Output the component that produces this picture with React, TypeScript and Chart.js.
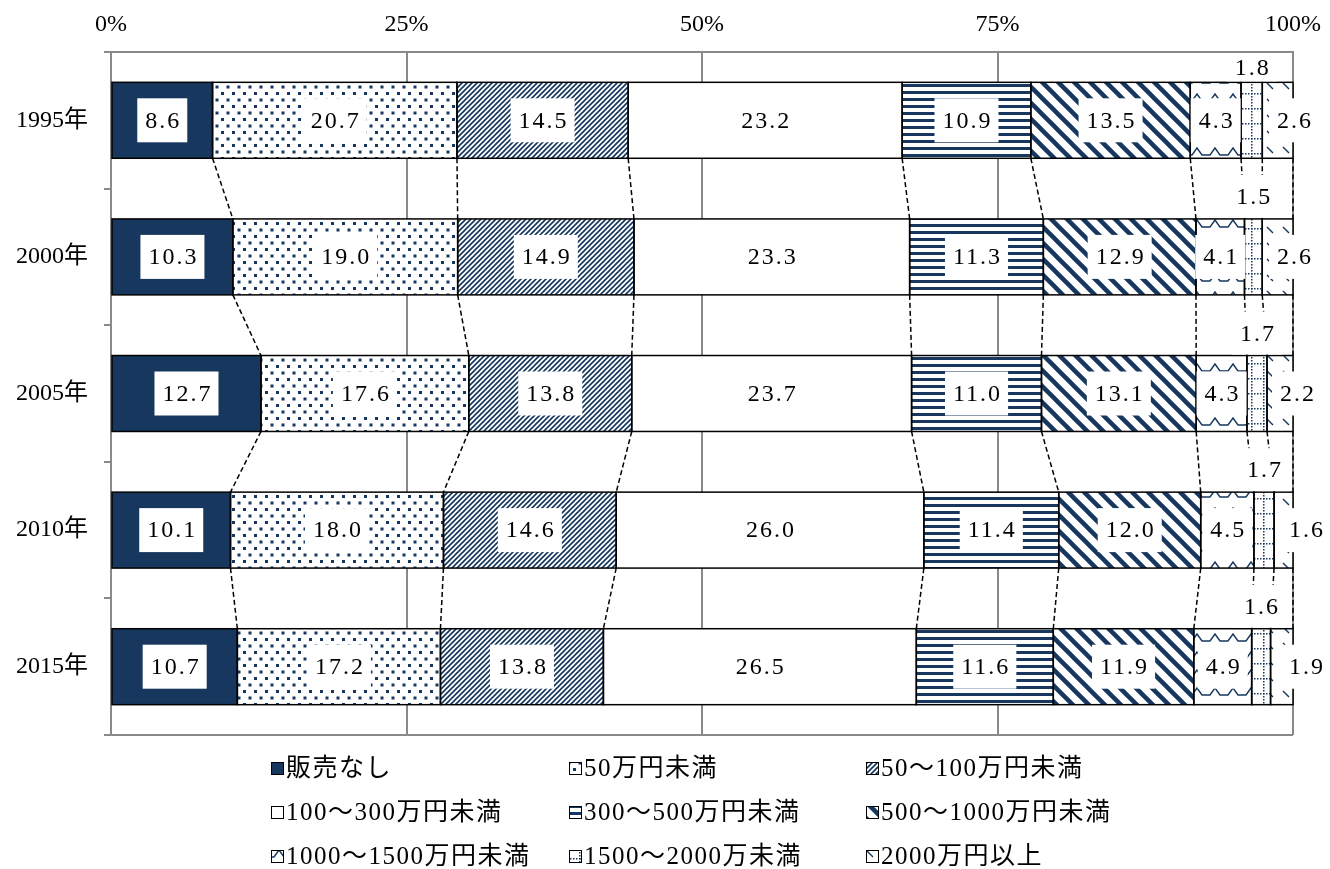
import React, { useEffect, useRef } from 'react';
import { Chart, registerables } from 'chart.js';

Chart.register(...registerables);

// ---- data ----
const YEARS = ['1995年', '2000年', '2005年', '2010年', '2015年'];
const SERIES_NAMES = [
  '販売なし',
  '50万円未満',
  '50～100万円未満',
  '100～300万円未満',
  '300～500万円未満',
  '500～1000万円未満',
  '1000～1500万円未満',
  '1500～2000万未満',
  '2000万円以上',
];
const NO_SALES = [8.6, 10.3, 12.7, 10.1, 10.7];
const UNDER_50 = [20.7, 19.0, 17.6, 18.0, 17.2];
const UNDER_100 = [14.5, 14.9, 13.8, 14.6, 13.8];
const UNDER_300 = [23.2, 23.3, 23.7, 26.0, 26.5];
const UNDER_500 = [10.9, 11.3, 11.0, 11.4, 11.6];
const UNDER_1000 = [13.5, 12.9, 13.1, 12.0, 11.9];
const UNDER_1500 = [4.3, 4.1, 4.3, 4.5, 4.9];
const UNDER_2000 = [1.8, 1.5, 1.7, 1.7, 1.6];
const OVER_2000 = [2.6, 2.6, 2.2, 1.6, 1.9];
const X_TICKS = [0, 25, 50, 75, 100];

const SERIES = [NO_SALES, UNDER_50, UNDER_100, UNDER_300, UNDER_500, UNDER_1000, UNDER_1500, UNDER_2000, OVER_2000];

// ---- styles / layout ----
const NAVY = '#17375E';
const GRAY = '#898989';
const FONT = '"Liberation Serif", "Noto Sans CJK JP", serif';
const LAST_LABEL_DX = [1, 1, 4, 13, 13];
const LEGEND_COLS = [271, 569, 866];
const LEGEND_ROWS = [768, 812, 856];

function tile(w: number, h: number, draw: (g: CanvasRenderingContext2D) => void): CanvasPattern {
  const c = document.createElement('canvas');
  c.width = w;
  c.height = h;
  const g = c.getContext('2d')!;
  g.fillStyle = '#fff';
  g.fillRect(0, 0, w, h);
  g.fillStyle = NAVY;
  g.strokeStyle = NAVY;
  draw(g);
  return g.createPattern(c, 'repeat')!;
}

function line(g: CanvasRenderingContext2D, x1: number, y1: number, x2: number, y2: number) {
  g.beginPath();
  g.moveTo(x1, y1);
  g.lineTo(x2, y2);
  g.stroke();
}

function makeFills(): (string | CanvasPattern)[] {
  return [
    NAVY,
    tile(11, 13, (g) => {
      g.fillRect(1, 1, 3, 3);
      g.fillRect(6.5, 7.5, 3, 3);
    }),
    tile(5, 5, (g) => {
      g.lineWidth = 1.7;
      line(g, -1, 6, 6, -1);
      line(g, -1, 1, 1, -1);
      line(g, 4, 6, 6, 4);
    }),
    '#ffffff',
    tile(8, 7, (g) => {
      g.fillRect(0, 0, 8, 3);
    }),
    tile(16, 16, (g) => {
      g.lineWidth = 4.5;
      for (const off of [-16, 0, 16]) line(g, off - 2, -2, off + 18, 18);
    }),
    tile(18, 18, (g) => {
      g.lineWidth = 1.4;
      g.beginPath();
      g.moveTo(0, 11);
      g.lineTo(4, 11);
      g.lineTo(9, 4);
      g.lineTo(14, 11);
      g.lineTo(18, 11);
      g.stroke();
    }),
    tile(12, 15, (g) => {
      for (let y = 0; y < 15; y += 3) g.fillRect(3, y, 1.5, 1.5);
      for (let x = 0; x < 12; x += 3) g.fillRect(x, 3, 1.5, 1.5);
    }),
    tile(16, 16, (g) => {
      g.lineWidth = 1.4;
      line(g, 3, 3, 9, 9);
    }),
  ];
}

const TOTALS = YEARS.map((_, k) => SERIES.reduce((s, arr) => s + arr[k], 0));

export default function App() {
  const ref = useRef<HTMLCanvasElement>(null);

  useEffect(() => {
    const canvas = ref.current!;
    const fills = makeFills();

    const overlay = {
      id: 'overlay',
      beforeDatasetsDraw(chart: any) {
        const { ctx, chartArea } = chart;
        ctx.save();
        ctx.strokeStyle = GRAY;
        ctx.lineWidth = 2;
        ctx.beginPath();
        ctx.moveTo(chartArea.left - 7, chartArea.bottom);
        ctx.lineTo(chartArea.right, chartArea.bottom);
        ctx.stroke();
        ctx.restore();
      },
      afterDatasetsDraw(chart: any) {
        const { ctx, chartArea } = chart;
        const metas = chart.data.datasets.map((_: any, i: number) => chart.getDatasetMeta(i));
        ctx.save();
        // outlines
        ctx.strokeStyle = '#000';
        ctx.lineWidth = 1.5;
        metas.forEach((m: any) =>
          m.data.forEach((el: any) => {
            const l = Math.min(el.x, el.base);
            ctx.strokeRect(l, el.y - el.height / 2, Math.abs(el.x - el.base), el.height);
          })
        );
        // series lines
        ctx.setLineDash([5, 3]);
        ctx.lineWidth = 1.5;
        metas.forEach((m: any) => {
          for (let k = 0; k < m.data.length - 1; k++) {
            const a = m.data[k];
            const b = m.data[k + 1];
            ctx.beginPath();
            ctx.moveTo(a.x, a.y + a.height / 2);
            ctx.lineTo(b.x, b.y - b.height / 2);
            ctx.stroke();
          }
        });
        ctx.setLineDash([]);
        // labels
        ctx.font = `24px ${FONT}`;
        (ctx as any).letterSpacing = '2px';
        ctx.textAlign = 'center';
        ctx.textBaseline = 'middle';
        metas.forEach((m: any, i: number) => {
          m.data.forEach((el: any, k: number) => {
            const text = SERIES[i][k].toFixed(1);
            let cx = (el.x + el.base) / 2;
            let cy = el.y;
            const barTop = el.y - el.height / 2;
            if (i === 7) cy = Math.max(barTop - 22, chartArea.top + 16);
            if (i === 8) cx = el.x + LAST_LABEL_DX[k];
            const w = ctx.measureText(text).width + 14;
            let top = cy - 22;
            let bottom = cy + 22;
            if (i === 7) {
              bottom = Math.min(bottom, barTop - 1);
              top = Math.max(top, chartArea.top + 2);
            }
            ctx.fillStyle = '#fff';
            ctx.fillRect(cx - w / 2, top, w, bottom - top);
            ctx.fillStyle = '#000';
            ctx.fillText(text, cx + 1, cy + 1);
          });
        });
        (ctx as any).letterSpacing = '0px';
        ctx.restore();
      },
      afterDraw(chart: any) {
        const { ctx } = chart;
        ctx.save();
        ctx.font = `25px ${FONT}`;
        (ctx as any).letterSpacing = '1.5px';
        ctx.textAlign = 'left';
        ctx.textBaseline = 'middle';
        SERIES_NAMES.forEach((name, i) => {
          const x = LEGEND_COLS[i % 3];
          const y = LEGEND_ROWS[Math.floor(i / 3)];
          ctx.fillStyle = fills[i];
          ctx.fillRect(x, y - 6, 13, 13);
          ctx.strokeStyle = '#000';
          ctx.lineWidth = 1;
          ctx.strokeRect(x + 0.5, y - 5.5, 12, 12);
          ctx.fillStyle = '#000';
          ctx.fillText(name, x + 15, y + 1);
        });
        (ctx as any).letterSpacing = '0px';
        ctx.restore();
      },
    };

    Chart.defaults.font.family = FONT;

    const chart = new Chart(canvas, {
      type: 'bar',
      data: {
        labels: YEARS,
        datasets: SERIES.map((vals, i) => ({
          label: SERIES_NAMES[i],
          data: vals.map((v, k) => (v / TOTALS[k]) * 100),
          backgroundColor: fills[i] as any,
          borderWidth: 0,
          categoryPercentage: 1,
          barPercentage: 0.556,
        })),
      },
      options: {
        animation: false,
        responsive: true,
        maintainAspectRatio: false,
        indexAxis: 'y',
        layout: { padding: { left: 0, right: 37, top: 0, bottom: 134 } },
        plugins: { legend: { display: false }, tooltip: { enabled: false } },
        scales: {
          x: {
            type: 'linear',
            position: 'top',
            stacked: true,
            min: 0,
            max: 100,
            afterFit: (s: any) => {
              s.height = 52;
              s.paddingLeft = 0;
              s.paddingRight = 0;
            },
            afterBuildTicks: (s: any) => {
              s.ticks = X_TICKS.map((v) => ({ value: v }));
            },
            ticks: {
              callback: (v: any) => v + '%',
              font: { size: 24, family: FONT },
              color: '#000',
              padding: 13,
            },
            grid: { color: GRAY, lineWidth: 2, drawTicks: false },
            border: { display: true, color: GRAY, width: 2 },
          },
          y: {
            stacked: true,
            afterFit: (s: any) => {
              s.width = 111;
            },
            ticks: { font: { size: 24, family: FONT }, color: '#000', padding: 16 },
            grid: { drawOnChartArea: false, color: GRAY, lineWidth: 2, tickLength: 7 },
            border: { display: true, color: GRAY, width: 2 },
          },
        },
      },
      plugins: [overlay],
    });

    return () => chart.destroy();
  }, []);

  return (
    <div style={{ position: 'fixed', left: 0, top: 0, width: 1330, height: 869, background: '#fff' }}>
      <canvas ref={ref} />
    </div>
  );
}
